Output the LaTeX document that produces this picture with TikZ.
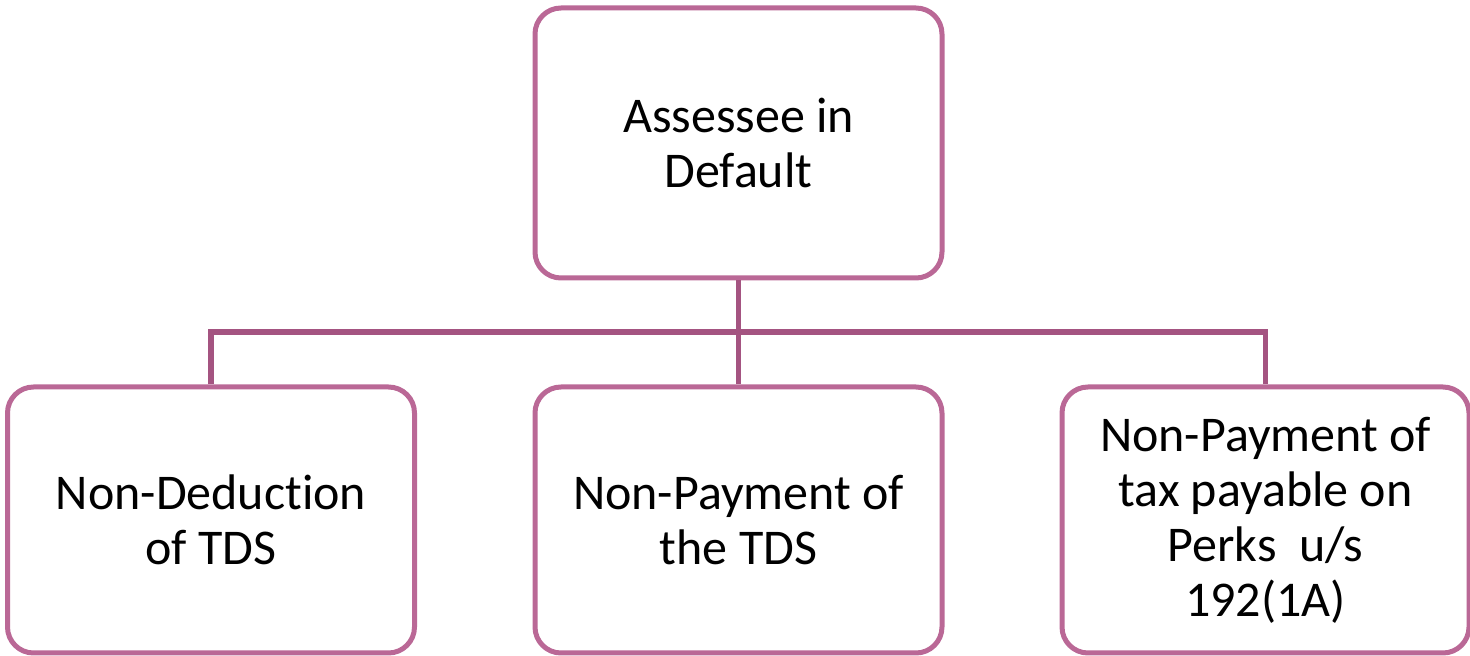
\documentclass[tikz,border=0pt]{standalone}
\usepackage{fontspec}
\setmainfont{Carlito}[Ligatures=NoCommon]
\definecolor{boxc}{RGB}{186,104,150}
\definecolor{linec}{RGB}{164,84,129}
\begin{document}
\begin{tikzpicture}[x=1pt,y=1pt,
  box/.style={draw=boxc, line width=5pt, rounded corners=26pt, fill=white,
    minimum width=407pt, inner sep=0pt, align=center,
    font=\fontsize{50}{55}\selectfont, text=black},
  conn/.style={draw=linec, line width=5.5pt}]
\useasboundingbox (0,0) rectangle (1470,656);
\node[box, minimum height=270pt] (top) at (738.5,513) {Assessee in\\Default};
\node[box, minimum height=266pt] (b1) at (211,136) {Non-Deduction\\of TDS};
\node[box, minimum height=266pt] (b2) at (738.5,136) {Non-Payment of\\the TDS};
\node[box, minimum height=266pt] (b3) at (1265.5,136) {Non-Payment of\\tax payable on\\Perks\ \ u/s\\192(1A)};
\coordinate (bar) at (738.5,324);
\draw[conn] (top.south) -- (b2.north);
\draw[conn] (b1.north) -- (b1.north |- bar) -- (b3.north |- bar) -- (b3.north);
\end{tikzpicture}
\end{document}
